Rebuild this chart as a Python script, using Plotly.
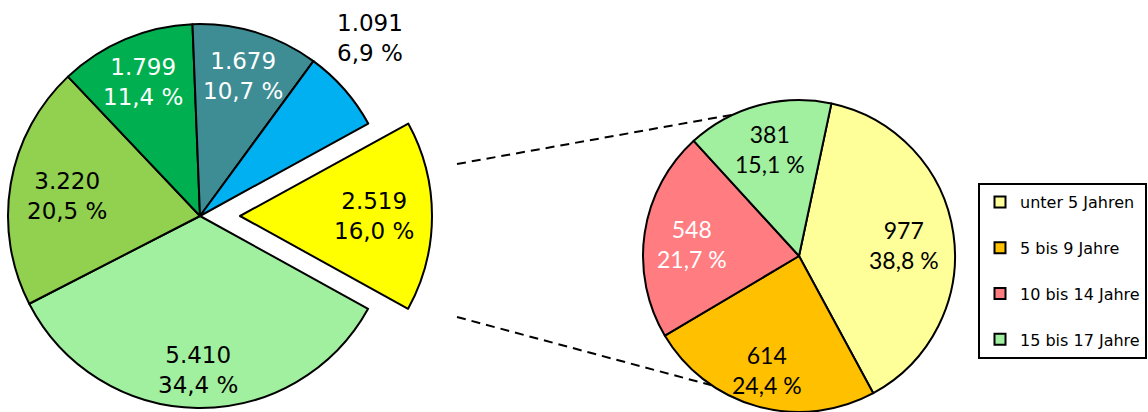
import math
import plotly.graph_objects as go

W, H = 1148, 412

# left pie (total), the yellow slice is broken down on the right
left_labels = ["Gruppe 1", "Gruppe 2", "Gruppe 3", "Gruppe 4", "Gruppe 5", "Gruppe 6"]
left_values = [2519, 5410, 3220, 1799, 1679, 1091]
left_colors = ["#FFFF00", "#A0F0A0", "#92D050", "#00B050", "#3E8C94", "#00B0F0"]
left_text_colors = ["black", "black", "black", "white", "white", "black"]

# right pie: age groups of the yellow slice
age_labels = ["unter 5 Jahren", "5 bis 9 Jahre", "10 bis 14 Jahre", "15 bis 17 Jahre"]
age_values = [977, 614, 548, 381]
age_colors = ["#FFFF99", "#FFC000", "#FF7C80", "#A0F0A0"]
age_text_colors = ["black", "black", "white", "black"]

# label placement: fraction of radius and angle nudge (deg) per slice
left_label_r = [0.70, 0.80, 0.70, 0.76, 0.76, 1.28]
left_label_da = [0, 0, -1, 0, 0, -5]
age_label_r = [0.68, 0.76, 0.69, 0.71]
age_label_da = [2, 0, -2, 0]

CLEAR = "rgba(0,0,0,0)"

# geometry in pixels
L_CX, L_CY, L_R = 200, 216, 192
PULL_PX = 40
L_ROT = 61.2
R_CX, R_CY, R_R = 799, 256, 156
R_ROT = 12


def de_labels(values):
    """German number format: 1.234 and 12,3 %"""
    total = sum(values)
    out = []
    for v in values:
        num = "{:,}".format(v).replace(",", ".")
        pct = "{:.1f}".format(100 * v / total).replace(".", ",")
        out.append(num + "<br>" + pct + " %")
    return out


def domain(cx, cy, r):
    """pixel centre/radius -> paper domain (no margins)"""
    return dict(x=[(cx - r) / W, (cx + r) / W],
                y=[1 - (cy + r) / H, 1 - (cy - r) / H])


def mid_angles(values, rotation):
    """clockwise angle from 12 o'clock of each slice's middle"""
    total = sum(values)
    out, start = [], rotation
    for v in values:
        span = 360 * v / total
        out.append(start + span / 2)
        start += span
    return out


def label_annotations(values, rotation, centres, r, fracs, nudges, colors,
                      family, size):
    anns = []
    texts = de_labels(values)
    for i, ang in enumerate(mid_angles(values, rotation)):
        cx, cy = centres[i]
        a = math.radians(ang + nudges[i])
        px = cx + fracs[i] * r * math.sin(a)
        py = cy - fracs[i] * r * math.cos(a)
        anns.append(dict(x=px / W, y=1 - py / H, xref="paper", yref="paper",
                         text=texts[i], showarrow=False,
                         xanchor="center", yanchor="middle",
                         font=dict(family=family, size=size, color=colors[i])))
    return anns


n = len(left_values)
fig = go.Figure()

# left pie without the pulled slice
fig.add_trace(
    go.Pie(
        labels=left_labels,
        values=left_values,
        sort=False,
        direction="clockwise",
        rotation=L_ROT,
        domain=domain(L_CX, L_CY, L_R),
        marker=dict(colors=[CLEAR] + left_colors[1:],
                    line=dict(color="black", width=[0] + [2] * (n - 1))),
        textinfo="none",
        hoverinfo="label+value+percent",
        showlegend=False,
    )
)

# pulled-out yellow slice
fig.add_trace(
    go.Pie(
        labels=left_labels,
        values=left_values,
        sort=False,
        direction="clockwise",
        rotation=L_ROT,
        domain=domain(L_CX + PULL_PX, L_CY, L_R),
        marker=dict(colors=[left_colors[0]] + [CLEAR] * (n - 1),
                    line=dict(color="black", width=[2] + [0] * (n - 1))),
        textinfo="none",
        hoverinfo="skip",
        showlegend=False,
    )
)

# right pie
fig.add_trace(
    go.Pie(
        labels=age_labels,
        values=age_values,
        sort=False,
        direction="clockwise",
        rotation=R_ROT,
        domain=domain(R_CX, R_CY, R_R),
        marker=dict(colors=age_colors, line=dict(color="black", width=2)),
        textinfo="none",
        hoverinfo="label+value+percent",
        showlegend=False,
    )
)

# legend entries
for lab, col in zip(age_labels, age_colors):
    fig.add_trace(
        go.Scatter(
            x=[None], y=[None],
            mode="markers",
            name=lab,
            legendgroup=lab,
            marker=dict(symbol="square", size=11, color=col,
                        line=dict(color="black", width=2)),
            hoverinfo="skip",
        )
    )

# slice labels
left_centres = [(L_CX + PULL_PX, L_CY)] + [(L_CX, L_CY)] * (n - 1)
annotations = label_annotations(left_values, L_ROT, left_centres, L_R,
                                left_label_r, left_label_da, left_text_colors,
                                "DejaVu Sans", 23)
annotations += label_annotations(age_values, R_ROT, [(R_CX, R_CY)] * 4, R_R,
                                 age_label_r, age_label_da, age_text_colors,
                                 "Lato", 23)

# dashed connectors from the pulled slice to the right pie
shapes = []
for (x0, y0), ang in [((457, 164), -25), ((457, 317), 214)]:
    a = math.radians(ang)
    x1 = R_CX + R_R * math.sin(a)
    y1 = R_CY - R_R * math.cos(a)
    shapes.append(dict(type="line", xref="paper", yref="paper",
                       x0=x0 / W, y0=1 - y0 / H, x1=x1 / W, y1=1 - y1 / H,
                       line=dict(color="black", width=2, dash="9px,6px")))

fig.update_layout(
    width=W,
    height=H,
    margin=dict(l=0, r=0, t=0, b=0),
    paper_bgcolor="white",
    plot_bgcolor="white",
    xaxis=dict(visible=False),
    yaxis=dict(visible=False),
    shapes=shapes,
    annotations=annotations,
    legend=dict(
        x=978 / W, y=1 - 183 / H,
        xanchor="left", yanchor="top",
        bordercolor="black", borderwidth=2,
        bgcolor="white",
        font=dict(family="DejaVu Sans", size=16, color="black"),
        tracegroupgap=22,
        itemwidth=30,
    ),
)

fig.write_html("out.html", config={"displayModeBar": False},
               post_script="document.body.style.margin='0px';")
